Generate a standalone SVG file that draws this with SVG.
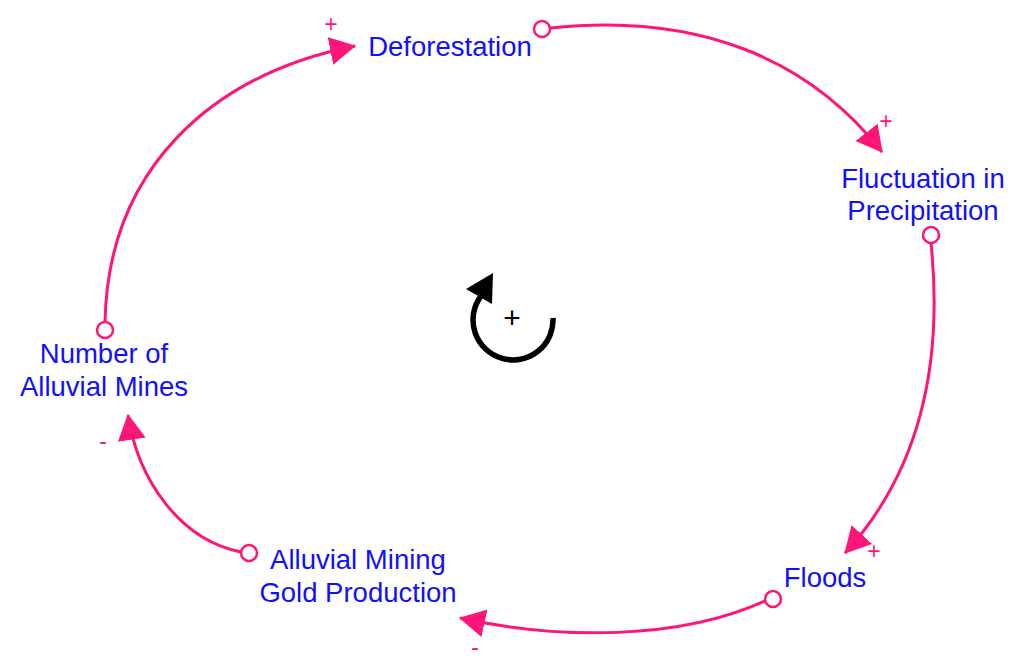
<svg xmlns="http://www.w3.org/2000/svg" width="1024" height="669" viewBox="0 0 1024 669">
<defs>
<style>
.lbl{font-family:"Liberation Sans",Arial,sans-serif;font-size:27.5px;fill:#1010ff;text-anchor:middle}
.pol{font-family:"Liberation Sans",Arial,sans-serif;font-size:23px;fill:#ff1478;text-anchor:middle}
.link{fill:none;stroke:#ff1478;stroke-width:3}
.tail{fill:#fff;stroke:#ff1478;stroke-width:2.5}
</style>
<marker id="ah" markerUnits="userSpaceOnUse" markerWidth="28" markerHeight="30" viewBox="0 0 28 30" refX="25" refY="15" orient="auto">
<path d="M0,1 L26,15 L0,29 Z" fill="#ff1478"/>
</marker>
</defs>
<rect width="1024" height="669" fill="#fff"/>
<g id="connectors">
<path class="link" d="M105,322 C108,170 210,75 355,46" marker-end="url(#ah)"/>
<circle class="tail" cx="105" cy="330" r="8"/>
<text class="pol" x="331" y="32">+</text>
<path class="link" d="M550,28 C700,12 810,60 882,152" marker-end="url(#ah)"/>
<circle class="tail" cx="542" cy="29" r="8"/>
<text class="pol" x="886" y="129">+</text>
<path class="link" d="M931,243 C945,380 912,480 845,553" marker-end="url(#ah)"/>
<circle class="tail" cx="931" cy="235" r="8"/>
<text class="pol" x="874" y="559">+</text>
<path class="link" d="M765,601 C680,640 560,640 460,618" marker-end="url(#ah)"/>
<circle class="tail" cx="773" cy="599" r="8"/>
<text class="pol" x="475" y="655">-</text>
<path class="link" d="M241,552 C180,540 138,480 128,415" marker-end="url(#ah)"/>
<circle class="tail" cx="249" cy="553" r="8"/>
<text class="pol" x="103" y="449">-</text>
</g>
<g id="deforestation"><text class="lbl" x="450" y="56">Deforestation</text></g>
<g id="fluctuation"><text class="lbl" x="923" y="188">Fluctuation in</text><text class="lbl" x="923" y="220">Precipitation</text></g>
<g id="floods"><text class="lbl" x="825" y="587">Floods</text></g>
<g id="gold"><text class="lbl" x="358" y="569">Alluvial Mining</text><text class="lbl" x="358" y="602">Gold Production</text></g>
<g id="mines"><text class="lbl" x="104" y="363">Number of</text><text class="lbl" x="104" y="396">Alluvial Mines</text></g>
<g id="loop">
<path d="M553,318 A40,40 0 1 1 481,296" fill="none" stroke="#000" stroke-width="5.5"/>
<polygon points="466,289 493,273 492,304" fill="#000"/>
<text x="512" y="328" font-family="'Liberation Sans',Arial,sans-serif" font-size="30" text-anchor="middle" fill="#000">+</text>
</g>
</svg>
